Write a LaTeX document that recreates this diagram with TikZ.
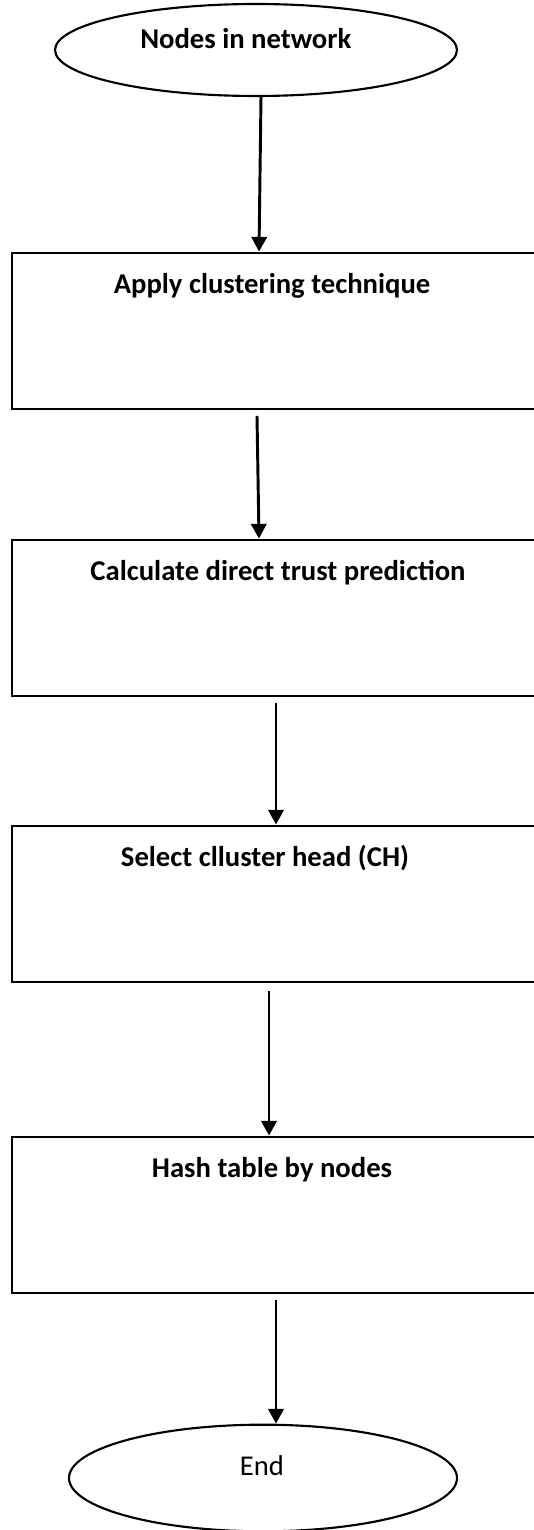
\documentclass[tikz,border=0pt]{standalone}
\usepackage{fontspec}
\setmainfont{Carlito}
\usetikzlibrary{arrows.meta, positioning, shapes.geometric}

\begin{document}
\begin{tikzpicture}[x=0.75pt, y=-0.75pt,
    flow/.style={-{Triangle[width=11.5pt,length=11pt]}, line width=2.2pt},
    stepbox/.style={draw, line width=2.2pt, minimum width=399.75pt, minimum height=117pt, inner sep=0pt},
    steptext/.style={font=\fontsize{21.5}{26}\selectfont, inner sep=0pt, anchor=base},
    term/.style={draw, ellipse, line width=1.6pt, inner sep=0pt}]
    \clip (0,0) rectangle (534,1530);

    % start and end
    \node[term, minimum width=301.5pt, minimum height=69pt] (start) at (256,50) {};
    \node[steptext, anchor=base west] (startlbl) at (140,49) {\bfseries Nodes in network};
    \node[term, minimum width=291pt, minimum height=80pt] (finish) at (263,1478) {};
    \node[steptext] (finishlbl) at (262,1475) {End};

    % process steps
    \node[stepbox] (box1) at (278.5,331) {};
    \node[stepbox] (box2) at (278.5,618) {};
    \node[stepbox] (box3) at (278.5,904) {};
    \node[stepbox] (box4) at (278.5,1215) {};
    \node[steptext] (lbl1) at (272,293) {\bfseries Apply clustering technique};
    \node[steptext] (lbl2) at (278,580) {\bfseries Calculate direct trust prediction};
    \node[steptext] (lbl3) at (265,866) {\bfseries Select clluster head (CH)};
    \node[steptext] (lbl4) at (272,1177) {\bfseries Hash table by nodes};

    % arrows
    \draw[flow] (start.south -| 261,0) -- (box1.north -| 259,0);
    \draw[flow] ([yshift=-4pt]box1.south -| 257,0) -- (box2.north -| 259,0);
    \draw[flow] ([yshift=-4pt]box2.south -| 276,0) -- (box3.north -| 276,0);
    \draw[flow] ([yshift=-6pt]box3.south -| 269,0) -- (box4.north -| 269,0);
    \draw[flow] ([yshift=-4pt]box4.south -| 276,0) -- (finish.north -| 276,0);
\end{tikzpicture}
\end{document}
